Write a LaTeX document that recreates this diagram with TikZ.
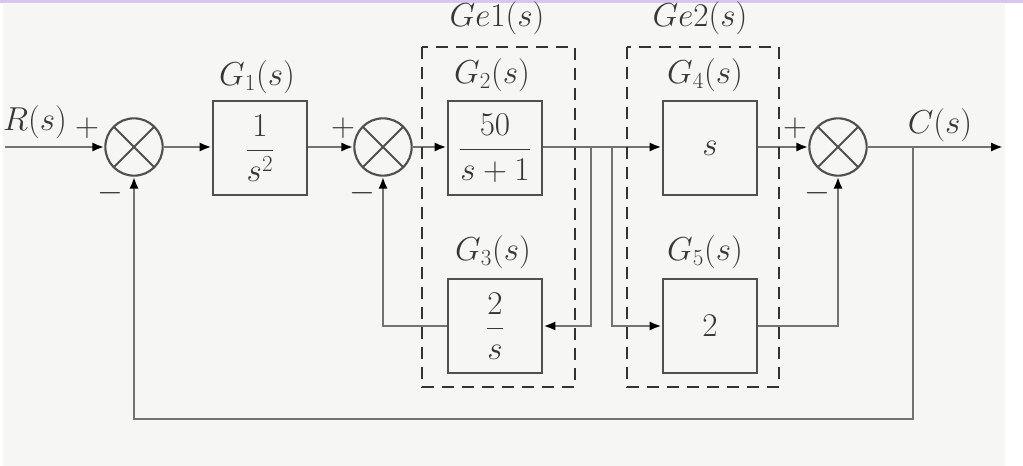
\documentclass[tikz,border=0pt]{standalone}
\usepackage{amsmath}
\usepackage{amsfonts}
\usepackage{amssymb}
\usetikzlibrary{arrows.meta}

\definecolor{paper}{RGB}{246,246,245}
\definecolor{wiregray}{RGB}{115,115,115}
\definecolor{boxgray}{RGB}{80,80,80}
\definecolor{inkgray}{RGB}{55,55,55}
\definecolor{topband}{RGB}{214,198,240}

\tikzset{
  blk/.style={draw=boxgray, line width=2.2pt, fill=paper, minimum width=70.5pt, minimum height=70.5pt, inner sep=0pt, text=inkgray},
  summer/.style={draw=boxgray, circle, line width=1.6pt, minimum size=43pt, inner sep=0pt,
    path picture={\draw[line width=1.4pt, boxgray] (path picture bounding box.south west) -- (path picture bounding box.north east)
      (path picture bounding box.north west) -- (path picture bounding box.south east);}},
  wire/.style={draw=wiregray, line width=2.2pt},
  tipped/.style={-{Latex[length=9pt,width=7pt,color=black]}},
  lbl/.style={text=inkgray, inner sep=0pt},
  grp/.style={draw=black!80, line width=2.2pt, dash pattern=on 9pt off 6pt},
}

\begin{document}
\begin{tikzpicture}[x=0.75pt,y=0.75pt,yscale=-1,xscale=1,font=\fontsize{23}{27}\selectfont]
\useasboundingbox (0,0) rectangle (1023,466);
% Paper
\fill[topband] (0,0) rectangle (1023,3);
\fill[paper] (3,4) rectangle (1005,466);
% Summing junctions
\node[summer] (sum1) at (134,147) {};
\node[summer] (sum2) at (383,147) {};
\node[summer] (sum3) at (838,147) {};
% Blocks
\node[blk] (g1) at (260,148) {$\dfrac{1}{s^{2}}$};
\node[blk] (g2) at (495,148) {$\dfrac{50}{s+1}$};
\node[blk] (g3) at (495,326) {$\dfrac{2}{s}$};
\node[blk] (g4) at (710,148) {$s$};
\node[blk] (g5) at (710,326) {$2$};
% Branch points
\coordinate (in) at (5,147);
\coordinate (out) at (1003,147);
\coordinate (b1) at (591,147);
\coordinate (b2) at (612,147);
\coordinate (b3) at (913,147);
\coordinate (fb) at (913,419);
%Straight Lines
\draw[wire,tipped] (in) -- (sum1.west);
\draw[wire,tipped] (sum1.east) -- (sum1.east -| g1.west);
\draw[wire,tipped] (sum1.east -| g1.east) -- (sum2.west);
\draw[wire,tipped] (sum2.east) -- (sum2.east -| g2.west);
\draw[wire,tipped] (sum2.east -| g2.east) -- (b1) -- (b2) -- (b2 -| g4.west);
\draw[wire,tipped] (b1) |- (g3.east);
\draw[wire,tipped] (g3.west) -| (sum2.south);
\draw[wire,tipped] (b2) |- (g5.west);
\draw[wire,tipped] (g5.east) -| (sum3.south);
\draw[wire,tipped] (b2 -| g4.east) -- (sum3.west);
\draw[wire,tipped] (sum3.east) -- (out);
\draw[wire,tipped] (b3) -- (fb) -| (sum1.south);
% Dashed groups
\draw[grp] (422,47) rectangle (575,387);
\draw[grp] (627,47) rectangle (779,387);
% Text Node
\node[lbl] (rlab) at (35,122) {$R(s)$};
\node[lbl] (clab) at (940,125) {$C(s)$};
\node[lbl] (g1lab) at (257,77) {$G_{1}(s)$};
\node[lbl] (g2lab) at (492,75) {$G_{2}(s)$};
\node[lbl] (g3lab) at (493,252) {$G_{3}(s)$};
\node[lbl] (g4lab) at (705,75) {$G_{4}(s)$};
\node[lbl] (g5lab) at (705,252) {$G_{5}(s)$};
\node[lbl] (ge1lab) at (497,18) {$Ge1(s)$};
\node[lbl] (ge2lab) at (700,18) {$Ge2(s)$};
% Signs
\node[lbl] (p1) at (87,128) {$+$};
\node[lbl] (m1) at (110,193) {$-$};
\node[lbl] (p2) at (343,128) {$+$};
\node[lbl] (m2) at (362,193) {$-$};
\node[lbl] (p3) at (795,128) {$+$};
\node[lbl] (m3) at (817,193) {$-$};
\end{tikzpicture}
\end{document}
